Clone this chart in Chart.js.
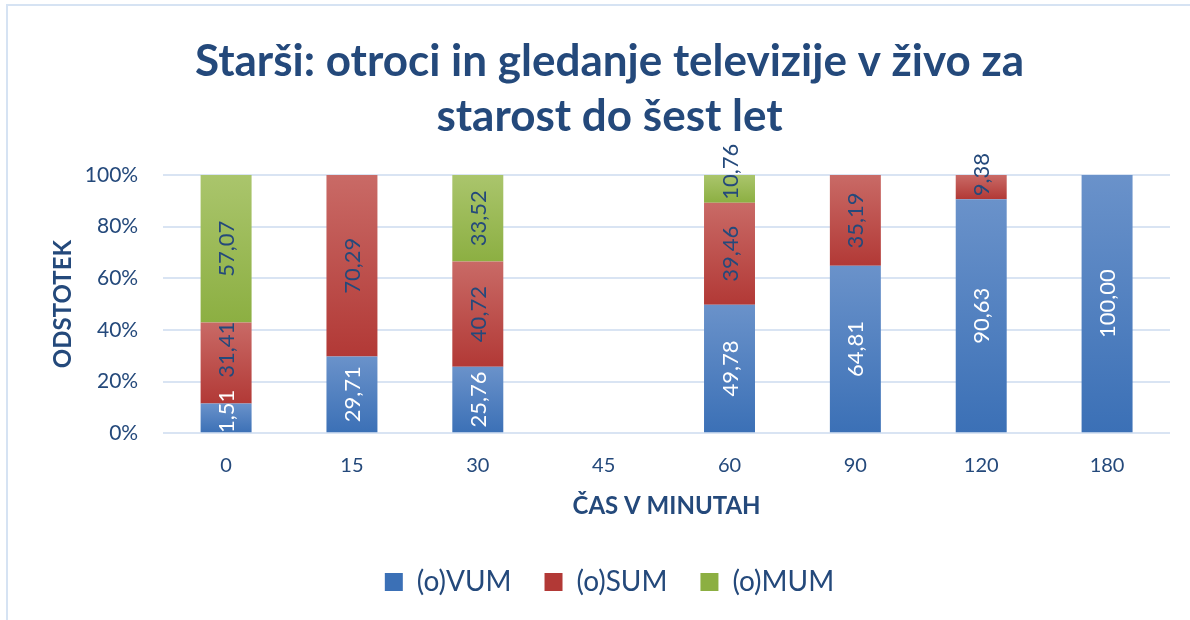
<!DOCTYPE html>
<html>
<head>
<meta charset="utf-8">
<script src="https://cdn.jsdelivr.net/npm/chart.js@4"></script>
<style>
  body { margin: 0; background: #fff; }
  #wrap { position: relative; width: 1190px; height: 620px; }
  #frame { position: absolute; left: 6px; top: 4px; right: -10px; bottom: -10px;
           border-top: 2px solid #d6e3f3; border-left: 2px solid #d6e3f3; }
  canvas { position: absolute; left: 0; top: 0; }
</style>
</head>
<body>
<div id="wrap">
  <div id="frame"></div>
  <canvas id="chart" width="1190" height="620"></canvas>
</div>
<script>
// ===== Data =====
const categories = ['0', '15', '30', '45', '60', '90', '120', '180'];
const seriesNames = ['(o)VUM', '(o)SUM', '(o)MUM'];
const vum = [11.51, 29.71, 25.76, 0, 49.78, 64.81, 90.63, 100.00];
const sum = [31.41, 70.29, 40.72, 0, 39.46, 35.19, 9.38, 0];
const mum = [57.07, 0, 33.52, 0, 10.76, 0, 0, 0];
const yTicks = [0, 20, 40, 60, 80, 100];

const series = [vum, sum, mum];
const textColor = '#24497b';
const FONT = 'Lato, "Open Sans", sans-serif';

// top colour, bottom colour, flat colour for legend
const palette = [
  ['#6a92ca', '#3b70b6', '#4f7fc0'],
  ['#c96a66', '#b23936', '#c0504d'],
  ['#aac56c', '#8caf42', '#9bbb59']
];

function gradientFill(di) {
  return (ctx) => {
    const chart = ctx.chart;
    const c = palette[di];
    if (!chart.chartArea || ctx.type !== 'data') return c[2];
    const y = chart.scales.y;
    let start = 0;
    for (let d = 0; d < di; d++) start += series[d][ctx.dataIndex];
    const end = start + series[di][ctx.dataIndex];
    const g = chart.ctx.createLinearGradient(0, y.getPixelForValue(end), 0, y.getPixelForValue(start));
    g.addColorStop(0, c[0]);
    g.addColorStop(1, c[1]);
    return g;
  };
}

// ===== Value labels (rotated) =====
const barLabels = {
  id: 'barLabels',
  afterDatasetsDraw(chart) {
    const ctx = chart.ctx;
    const area = chart.chartArea;
    ctx.save();
    ctx.beginPath();
    ctx.rect(0, 0, chart.width, area.bottom);
    ctx.clip();
    ctx.font = '22px ' + FONT;
    ctx.textAlign = 'center';
    ctx.textBaseline = 'middle';
    const prevTop = {};
    series.forEach((vals, di) => {
      const meta = chart.getDatasetMeta(di);
      meta.data.forEach((el, i) => {
        const v = vals[i];
        if (!v) return;
        const txt = v.toFixed(2).replace('.', ',');
        const w = ctx.measureText(txt).width;
        const top = Math.min(el.y, el.base), bottom = Math.max(el.y, el.base);
        let cy = (top + bottom) / 2;
        // labels that don't fit in an upper segment get pushed upward
        if (di > 0 && w > bottom - top) cy = bottom - 3 - w / 2;
        // keep clear of the label below it
        if (prevTop[i] !== undefined && cy + w / 2 > prevTop[i] - 12) cy = prevTop[i] - 12 - w / 2;
        prevTop[i] = cy - w / 2;
        ctx.fillStyle = di === 0 ? '#ffffff' : textColor;
        ctx.save();
        ctx.translate(el.x + 1, cy);
        ctx.rotate(-Math.PI / 2);
        ctx.fillText(txt, 0, 0);
        ctx.restore();
      });
    });
    ctx.restore();
  }
};

// ===== Chart.js - stacked 100% bars =====
const ctxChart = document.getElementById('chart').getContext('2d');
new Chart(ctxChart, {
  type: 'bar',
  data: {
    labels: categories,
    datasets: series.map((vals, di) => ({
      label: seriesNames[di],
      data: vals,
      backgroundColor: gradientFill(di),
      borderWidth: 0,
      barPercentage: 0.405,
      categoryPercentage: 1
    }))
  },
  options: {
    responsive: false,
    animation: false,
    layout: { padding: { left: 49, right: 20, top: 34, bottom: 14 } },
    plugins: {
      title: {
        display: true,
        text: ['Starši: otroci in gledanje televizije v živo za', 'starost do šest let'],
        color: textColor,
        font: { family: FONT, size: 44, weight: 'bold', lineHeight: 1.25 },
        padding: { top: 0, bottom: 31 }
      },
      legend: {
        position: 'bottom',
        labels: {
          color: textColor,
          font: { family: FONT, size: 28 },
          boxWidth: 18,
          boxHeight: 18,
          padding: 33
        }
      },
      tooltip: { enabled: false }
    },
    scales: {
      x: {
        stacked: true,
        grid: { display: false },
        border: { display: false },
        ticks: { color: textColor, font: { family: FONT, size: 20 }, padding: 12 },
        title: {
          display: true,
          text: 'ČAS V MINUTAH',
          color: textColor,
          font: { family: FONT, size: 24, weight: 'bold' },
          padding: { top: 3, bottom: 14 }
        }
      },
      y: {
        stacked: true,
        min: 0,
        max: 100,
        afterBuildTicks: (axis) => { axis.ticks = yTicks.map(v => ({ value: v })); },
        grid: { color: '#d9e4f3', lineWidth: 2, drawTicks: false },
        border: { display: false },
        ticks: {
          color: textColor,
          font: { family: FONT, size: 21 },
          padding: 25,
          callback: (v) => v + '%'
        },
        title: {
          display: true,
          text: 'ODSTOTEK',
          color: textColor,
          font: { family: FONT, size: 24, weight: 'bold' },
          padding: { top: 0, bottom: -18 }
        }
      }
    }
  },
  plugins: [barLabels]
});
</script>
</body>
</html>
